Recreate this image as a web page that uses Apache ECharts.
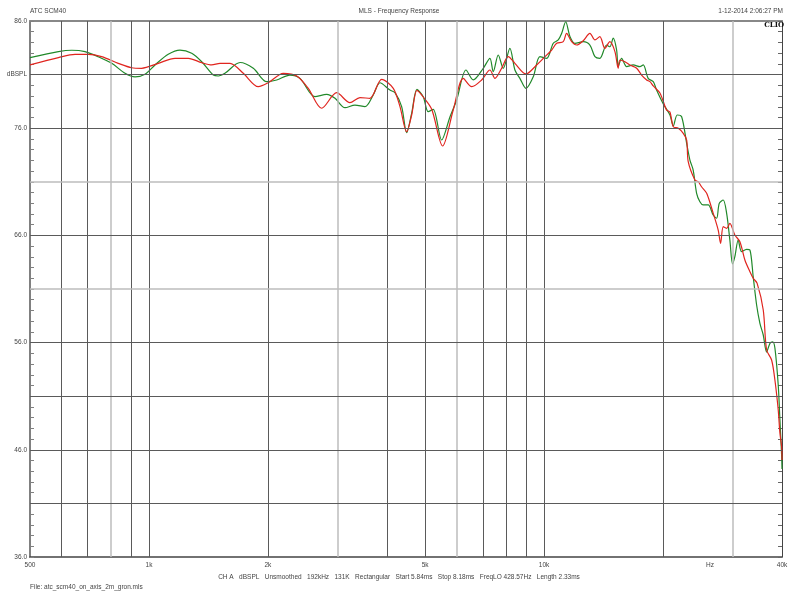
<!DOCTYPE html>
<html><head><meta charset="utf-8">
<script src="https://cdn.jsdelivr.net/npm/echarts@6/dist/echarts.min.js"></script>
<style>html,body{margin:0;padding:0;background:#fff}#c{width:798px;height:599px}</style>
</head><body><div id="c"></div>
<script>
// Frequency (Hz), level (dBSPL)
const greenPoints = [[500,82.58],[590,83.14],[638,83.27],[689,83.14],[744,82.67],[805,82.05],[870,81.12],[922,80.78],[977,81.03],[1036,81.90],[1119,82.89],[1198,83.29],[1283,82.99],[1360,82.20],[1455,80.96],[1498,80.87],[1557,81.12],[1700,82.13],[1837,81.59],[1986,80.34],[2105,80.50],[2274,80.96],[2411,80.65],[2631,78.94],[2817,79.16],[2957,78.79],[3134,77.91],[3322,78.16],[3521,78.01],[3695,79.10],[3842,80.24],[4073,79.56],[4193,79.31],[4360,78.01],[4489,75.58],[4622,77.39],[4767,79.63],[4945,78.94],[5090,77.54],[5241,77.76],[5505,74.90],[5780,77.07],[6008,78.63],[6344,81.43],[6617,80.50],[7015,81.59],[7293,82.52],[7435,81.27],[7656,82.83],[7881,81.59],[8194,83.45],[8436,81.43],[8685,80.65],[8996,79.72],[9387,80.80],[9758,82.67],[10150,82.52],[10550,83.92],[10860,84.23],[11080,84.85],[11340,85.93],[11630,84.54],[11970,83.92],[12560,84.07],[13060,83.76],[13450,82.67],[13840,82.52],[14390,83.76],[14670,83.60],[14960,84.41],[15260,83.29],[15400,81.74],[15710,82.52],[16180,81.74],[16810,81.90],[17480,81.74],[17820,81.90],[18340,80.65],[18890,80.34],[19260,79.56],[20030,78.26],[20820,77.23],[21230,76.21],[21720,77.23],[22290,77.07],[22950,74.59],[23390,73.03],[23840,72.10],[24320,69.93],[24790,69.14],[25270,68.84],[26020,68.84],[26790,67.90],[27330,67.60],[27750,68.99],[28400,69.30],[28970,68.06],[29520,65.57],[29990,63.33],[30390,64.01],[30990,65.57],[31610,64.48],[32540,64.70],[33180,64.64],[33820,62.15],[34500,59.51],[35170,57.80],[35860,56.71],[36570,55.12],[37290,55.93],[37880,56.08],[38380,55.50],[39130,52.05],[39520,48.78],[39910,45.50],[40000,44.20]];

const redPoints = [[500,81.90],[590,82.58],[650,82.89],[702,82.89],[759,82.67],[836,82.05],[904,81.64],[958,81.59],[1056,82.05],[1164,82.52],[1258,82.52],[1360,82.11],[1441,81.90],[1513,82.05],[1604,82.05],[1733,81.12],[1891,79.87],[2004,80.24],[2188,81.12],[2366,80.87],[2530,79.72],[2736,77.86],[2986,79.31],[3226,78.38],[3420,78.85],[3624,78.79],[3881,80.56],[4153,79.72],[4318,78.01],[4489,75.67],[4622,77.23],[4767,79.52],[4945,78.91],[5195,77.76],[5536,74.34],[5889,77.70],[6244,80.65],[6558,79.87],[6950,80.50],[7293,81.43],[7509,80.65],[7809,81.59],[8115,82.67],[8436,82.05],[8996,81.06],[9574,81.90],[10050,82.67],[10450,83.29],[10760,83.92],[11180,84.07],[11400,84.85],[11740,84.07],[12090,83.76],[12560,84.16],[13060,84.85],[13450,84.23],[13840,84.54],[14250,83.45],[14670,84.07],[15110,83.14],[15400,81.59],[15550,82.36],[16020,82.20],[16490,81.90],[17150,81.59],[17650,80.96],[18180,80.50],[18530,80.34],[18890,79.94],[19640,79.28],[20410,77.70],[20820,77.51],[21230,76.14],[21860,75.99],[22500,75.52],[22950,74.90],[23160,72.88],[24080,71.17],[24550,71.01],[25030,70.54],[25790,69.93],[26790,68.06],[27580,66.50],[27970,65.26],[28400,66.81],[28970,66.66],[29520,67.13],[30390,66.04],[31300,65.41],[32220,63.70],[33180,62.61],[33820,62.00],[34610,61.53],[35860,59.04],[36570,55.31],[37650,54.38],[38380,52.51],[39130,49.71],[39520,47.54],[39910,46.29],[40000,45.05]];

const xTickLabels = [[500,'500'],[1000,'1k'],[2000,'2k'],[5000,'5k'],[10000,'10k'],[26300,'Hz'],[40000,'40k']];
const xGridDark = [600,700,900,1000,2000,4000,5000,7000,8000,9000,10000,20000];
const xGridLight = [800,3000,6000,30000];
const yGridDark = [41,46,51,56,66,76,81];
const yGridLight = [61,71];
const yTickLabels = {36:'36.0',46:'46.0',56:'56.0',66:'66.0',76:'76.0',81:'dBSPL',86:'86.0'};

const FONT = 'Liberation Sans';
const DARK = '#5a5a5a', LIGHT = '#bdbdbd';

const markData = [];
xGridDark.forEach(v => markData.push({xAxis: v, lineStyle: {color: DARK, width: 1, type: 'solid'}, label: {show: false}}));
xGridLight.forEach(v => markData.push({xAxis: v, lineStyle: {color: LIGHT, width: 1.5, type: 'solid'}, label: {show: false}}));
yGridDark.forEach(v => markData.push({yAxis: v, lineStyle: {color: DARK, width: 1, type: 'solid'}, label: {show: false}}));
yGridLight.forEach(v => markData.push({yAxis: v, lineStyle: {color: LIGHT, width: 1.5, type: 'solid'}, label: {show: false}}));
xTickLabels.forEach(([v, t]) => markData.push({
  xAxis: v, lineStyle: {color: 'rgba(0,0,0,0)', width: 0.5, type: 'solid'},
  label: {show: true, position: 'start', distance: 5, formatter: t, fontSize: 6.5, color: '#444', fontFamily: FONT}
}));

const chart = echarts.init(document.getElementById('c'), null, {renderer: 'canvas'});
const yBase = {
  type: 'value', min: 36, max: 86, interval: 1,
  splitLine: {show: false}
};
const tStyle = {fontSize: 6.5, fontWeight: 'normal', color: '#444', fontFamily: FONT};
chart.setOption({
  animation: false,
  backgroundColor: '#fff',
  title: [
    {text: 'ATC SCM40', left: 30, top: 8, padding: 0, textStyle: tStyle},
    {text: 'MLS - Frequency Response', left: 'center', top: 8, padding: 0, textStyle: tStyle},
    {text: '1-12-2014 2:06:27 PM', right: 15, top: 8, padding: 0, textStyle: tStyle},
    {text: 'CLIO', right: 14, top: 22, padding: 0, textStyle: {fontSize: 7, fontWeight: 'bold', color: '#111', fontFamily: 'DejaVu Serif'}},
    {text: 'CH A   dBSPL   Unsmoothed   192kHz   131K   Rectangular   Start 5.84ms   Stop 8.18ms   FreqLO 428.57Hz   Length 2.33ms', left: 'center', top: 574, padding: 0, textStyle: tStyle},
    {text: 'File: atc_scm40_on_axis_2m_gron.mls', left: 30, top: 584, padding: 0, textStyle: tStyle}
  ],
  grid: {left: 30, right: 16, top: 21, bottom: 42, containLabel: false},
  xAxis: [
    {type: 'log', logBase: 10, min: 500, max: 40000, position: 'bottom',
     axisLine: {show: true, lineStyle: {color: '#444', width: 1.5}},
     axisTick: {show: false}, axisLabel: {show: false}, splitLine: {show: false}},
    {type: 'log', logBase: 10, min: 500, max: 40000, position: 'top',
     axisLine: {show: true, lineStyle: {color: '#888', width: 2}},
     axisTick: {show: false}, axisLabel: {show: false}, splitLine: {show: false}}
  ],
  yAxis: [
    Object.assign({}, yBase, {position: 'left',
      axisLine: {show: true, lineStyle: {color: '#808080', width: 2}},
      axisTick: {show: true, inside: true, length: 4, lineStyle: {color: '#808080'}},
      axisLabel: {show: true, margin: 3, fontSize: 6.5, color: '#444', fontFamily: FONT,
        formatter: v => yTickLabels[Math.round(v)] || ''}}),
    Object.assign({}, yBase, {position: 'right',
      axisLine: {show: true, lineStyle: {color: '#444', width: 1}},
      axisTick: {show: true, inside: true, length: 4, lineStyle: {color: '#666'}},
      axisLabel: {show: false}})
  ],
  series: [
    {type: 'line', name: 'grid', data: [], xAxisIndex: 0, yAxisIndex: 0, z: 1, silent: true,
     markLine: {silent: true, symbol: ['none', 'none'], animation: false, data: markData}},
    {type: 'line', name: 'green', data: greenPoints, xAxisIndex: 0, yAxisIndex: 0, z: 3,
     showSymbol: false, smooth: 0.3, lineStyle: {color: '#21892a', width: 1.2}},
    {type: 'line', name: 'red', data: redPoints, xAxisIndex: 0, yAxisIndex: 0, z: 4,
     showSymbol: false, smooth: 0.3, lineStyle: {color: '#e0251f', width: 1.2}}
  ]
});
</script></body></html>
